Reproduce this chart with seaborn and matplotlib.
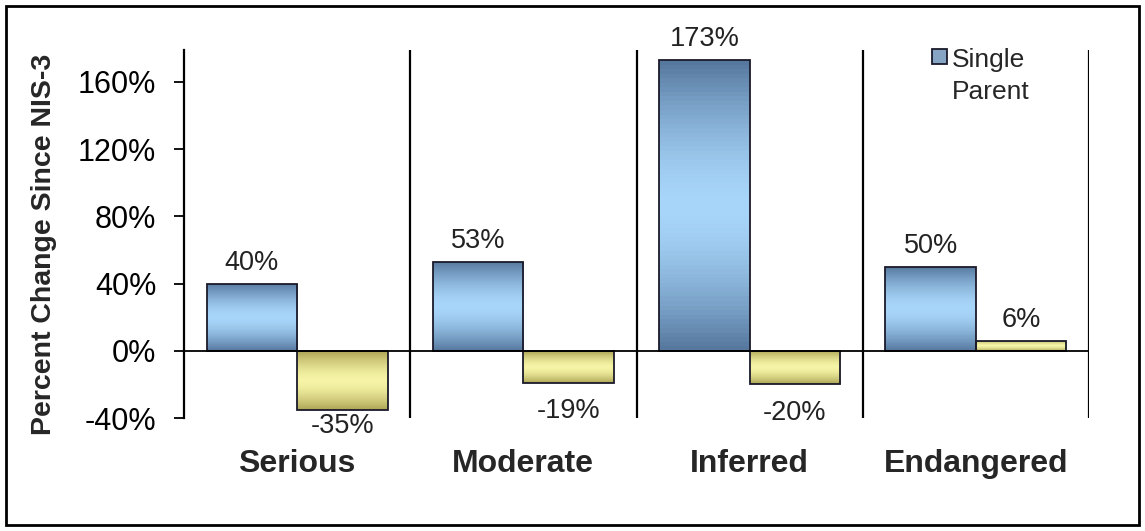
import numpy as np
import pandas as pd
import matplotlib
matplotlib.use("Agg")
import matplotlib.pyplot as plt
import seaborn as sns
from matplotlib.patches import Patch, Rectangle
from matplotlib.colors import to_rgb

# data
categories = ["Serious", "Moderate", "Inferred", "Endangered"]
single_parent = [40, 53, 173, 50]
other_family = [-35, -19, -20, 6]
series_names = ["Single Parent", "Other"]
y_ticks = [-40, 0, 40, 80, 120, 160]

df = pd.DataFrame({
    "category": categories * 2,
    "series": [series_names[0]] * 4 + [series_names[1]] * 4,
    "change": single_parent + other_family,
})

sns.set_style("white")
plt.rcParams["font.family"] = ["Liberation Sans", "DejaVu Sans"]

fig = plt.figure(figsize=(11.45, 5.31), dpi=100)
ax = fig.add_axes([184 / 1145, 113 / 531, 905 / 1145, 368 / 531])

# (dark edge colour, light centre colour) per series
grads = [("#56789f", "#a8d6fa"), ("#aea656", "#f6f4a6")]

sns.barplot(data=df, x="category", y="change", hue="series", order=categories,
            hue_order=series_names, palette=["#7fa6cc", "#e0dc86"], width=0.8,
            edgecolor="#1a1a2a", linewidth=1.3, legend=False, ax=ax)

# excel-ish gradient fill: dark at top/bottom, light in the middle
t = np.linspace(0, 1, 64)
w = 1 - np.abs(2 * t - 1) ** 1.6
for cont, (dark, light) in zip(ax.containers, grads):
    d, l = np.array(to_rgb(dark)), np.array(to_rgb(light))
    img = (d[None, :] * (1 - w[:, None]) + l[None, :] * w[:, None])[:, None, :]
    for bar in cont:
        x0, y0 = bar.get_x(), bar.get_y()
        bw, bh = bar.get_width(), bar.get_height()
        im = ax.imshow(img, extent=[x0, x0 + bw, min(y0, y0 + bh), max(y0, y0 + bh)],
                       aspect="auto", origin="lower", zorder=1.9)
        im.set_clip_path(bar)
        bar.set_facecolor("none")
        bar.set_zorder(2.1)

# value labels
for cont, vals in zip(ax.containers, [single_parent, other_family]):
    for bar, v in zip(cont, vals):
        xc = bar.get_x() + bar.get_width() / 2
        yl = v + 12.5 if v >= 0 else max(v - 17, -45)
        ax.text(xc, yl, f"{v}%", ha="center", va="center", fontsize=19.5,
                color="#222222", clip_on=False)

ax.set_xlim(-0.5, 3.5)
ax.set_ylim(-40, 179)
ax.axhline(0, color="black", lw=1.3, zorder=3)
for b in [0.5, 1.5, 2.5, 3.5]:
    ax.axvline(b, color="black", lw=1.6, zorder=3)

for s in ["top", "right", "bottom"]:
    ax.spines[s].set_visible(False)
ax.spines["left"].set_color("black")
ax.spines["left"].set_linewidth(1.6)

ax.set_yticks(y_ticks)
ax.set_yticklabels([f"{v}%" for v in y_ticks])
ax.tick_params(axis="y", direction="out", length=7, width=1.3, pad=13,
               labelsize=22, left=True, colors="black")
ax.tick_params(axis="x", length=0, pad=22)
for lab in ax.get_xticklabels():
    lab.set_fontsize(23)
    lab.set_fontweight("bold")

ax.set_xlabel("")
ax.set_ylabel("Percent Change Since NIS-3", fontsize=20.5, fontweight="bold")
ax.yaxis.set_label_coords(-0.1406, 0.473)

leg = ax.legend(handles=[Patch(facecolor="#86a4c4", edgecolor="#1a1a2a", lw=1.3)],
                labels=["Single\nParent"], loc="upper left", frameon=False,
                bbox_to_anchor=(932 / 1145, 1 - 48 / 531), bbox_transform=fig.transFigure,
                fontsize=19, handlelength=0.55, handleheight=0.55, handletextpad=0.2,
                borderaxespad=0, borderpad=0)
leg.get_texts()[0].set_linespacing(1.4)
# lift the marker up to the first line of the label
h = leg.legend_handles[0]
h.set_y(h.get_y() + 14)

fig.patches.append(Rectangle((6 / 1145, 6 / 531), 1133 / 1145, 519 / 531,
                             transform=fig.transFigure, fill=False,
                             edgecolor="black", lw=2))

fig.savefig("out.png", dpi=100)
